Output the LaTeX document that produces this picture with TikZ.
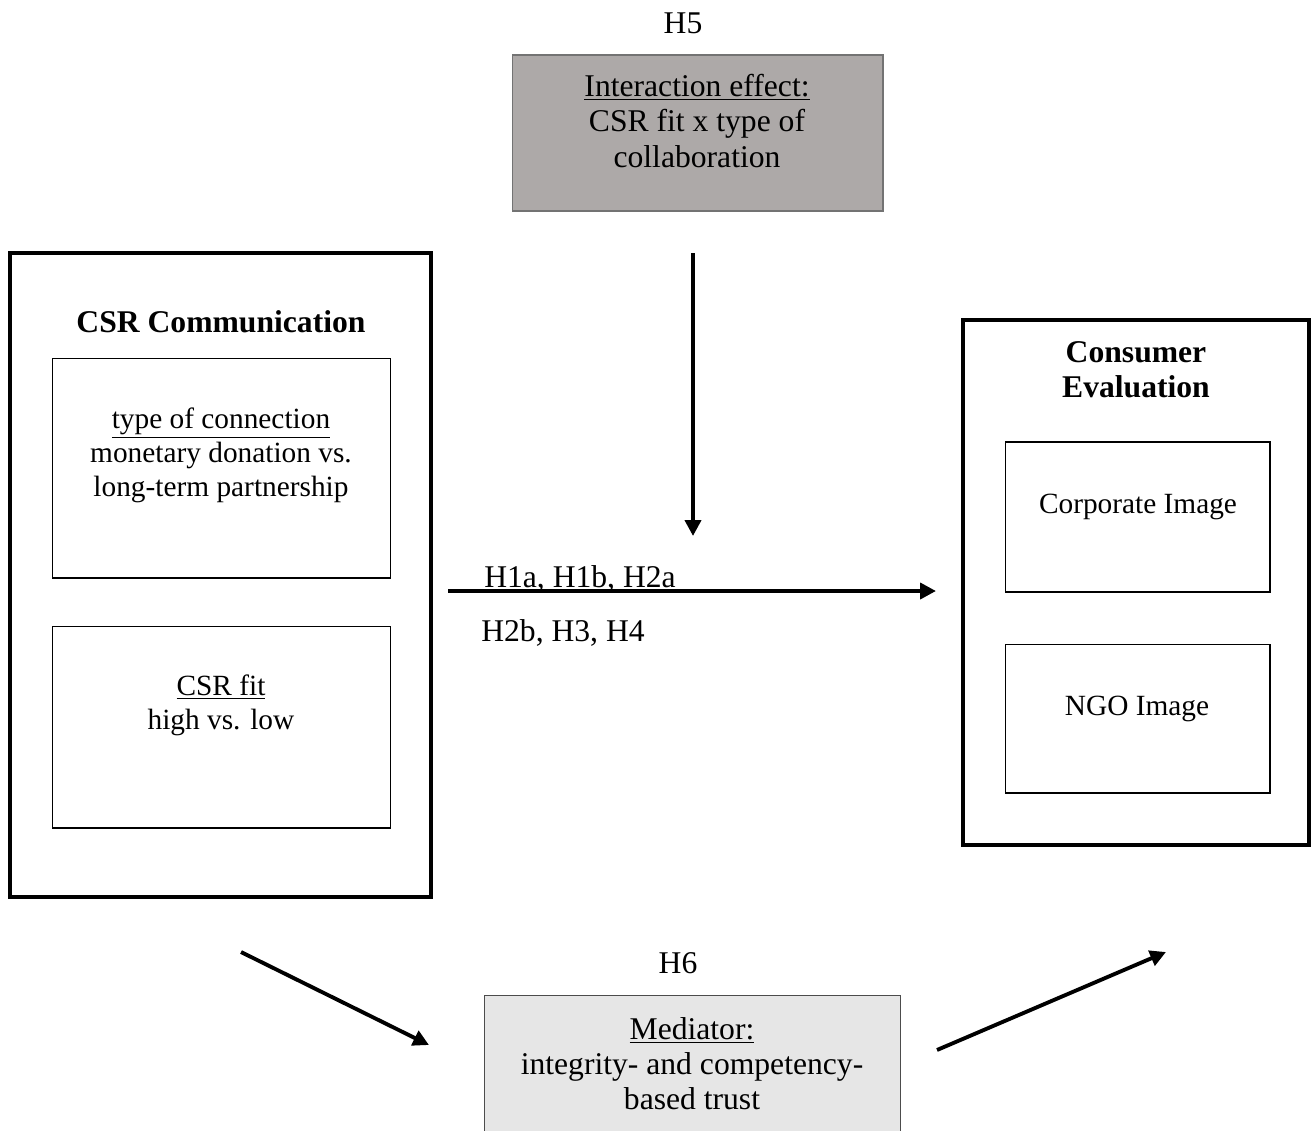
\documentclass[tikz,border=0pt]{standalone}
\usepackage{fontspec}
\setmainfont{Liberation Serif}
\usetikzlibrary{arrows.meta,positioning}

\definecolor{intergray}{RGB}{173,169,168}
\definecolor{medgray}{RGB}{230,230,230}

\begin{document}
\begin{tikzpicture}[x=0.02cm,y=-0.02cm,
  every node/.style={font=\fontsize{18}{20}\selectfont, inner sep=0pt, align=center},
  outerbox/.style={draw, line width=2.6pt},
  innerbox/.style={draw, line width=0.6pt},
  innertext/.style={font=\fontsize{16.7}{19.3}\selectfont},
  effect/.style={line width=2.2pt, -{Triangle[length=9pt,width=9pt]}}
]

  % Page size (pixel grid of the reference)
  \useasboundingbox (0,0) rectangle (1315,1130);

  % Moderator box on top
  \node (h5) [anchor=base] at (683,33) {H5};
  \node (inter) [draw=black!55, line width=0.6pt, fill=intergray,
    minimum width=7.42cm, minimum height=3.12cm] at (697.5,133) {};
  \node (intertxt) at (697,121) {\underline{Interaction effect:}\\CSR fit x type of\\collaboration};

  % Independent variables (left)
  \node (csr) [outerbox, minimum width=8.42cm, minimum height=12.88cm] at (220.5,575) {};
  \node (csrtitle) at (221,322) {\textbf{CSR Communication}};
  \node (conn) [innerbox, minimum width=6.78cm, minimum height=4.4cm] at (221.5,468) {};
  \node (conntxt) [innertext] at (221,455) {\underline{type of connection}\\monetary donation vs.\\long-term partnership};
  \node (fit) [innerbox, minimum width=6.78cm, minimum height=4.04cm] at (221.5,727) {};
  \node (fittxt) [innertext] at (221,705) {\underline{CSR fit}\\high vs. low};

  % Dependent variables (right)
  \node (cons) [outerbox, minimum width=6.92cm, minimum height=10.5cm] at (1136,582.5) {};
  \node (constitle) at (1136,370) {\textbf{Consumer}\\\textbf{Evaluation}};
  \node (corp) [innerbox, minimum width=5.3cm, minimum height=3.0cm] at (1137.5,517) {};
  \node (corptxt) [innertext] at (1138,507) {Corporate Image};
  \node (ngo) [innerbox, minimum width=5.3cm, minimum height=2.98cm] at (1137.5,718.5) {};
  \node (ngotxt) [innertext] at (1137,709) {NGO Image};

  % Mediator box at the bottom
  \node (h6) [anchor=base] at (678,973) {H6};
  \node (med) [draw=black!70, line width=0.6pt, fill=medgray,
    minimum width=8.34cm, minimum height=3.4cm] at (692.5,1080) {};
  \node (medtxt) at (692,1064) {\underline{Mediator:}\\integrity- and competency-\\based trust};

  % Arrow end points
  \coordinate (modtop) at (693,253);
  \coordinate (modtip) at (693,536);
  \coordinate (mainfrom) at (448,591);
  \coordinate (mainto) at (936,591);
  \coordinate (medin) at (241,952);
  \coordinate (medintip) at (429,1045);
  \coordinate (medout) at (937,1050);
  \coordinate (medouttip) at (1166,952);

  % Effects
  \draw[effect] (modtop) -- (modtip);
  \draw[effect] (mainfrom) -- (mainto);
  \draw[effect] (medin) -- (medintip);
  \draw[effect] (medout) -- (medouttip);

  % Hypotheses on the main path
  \node (hmainup) [anchor=base] at (580,587) {H1a, H1b, H2a};
  \node (hmaindown) [anchor=base] at (563,641) {H2b, H3, H4};

\end{tikzpicture}
\end{document}
